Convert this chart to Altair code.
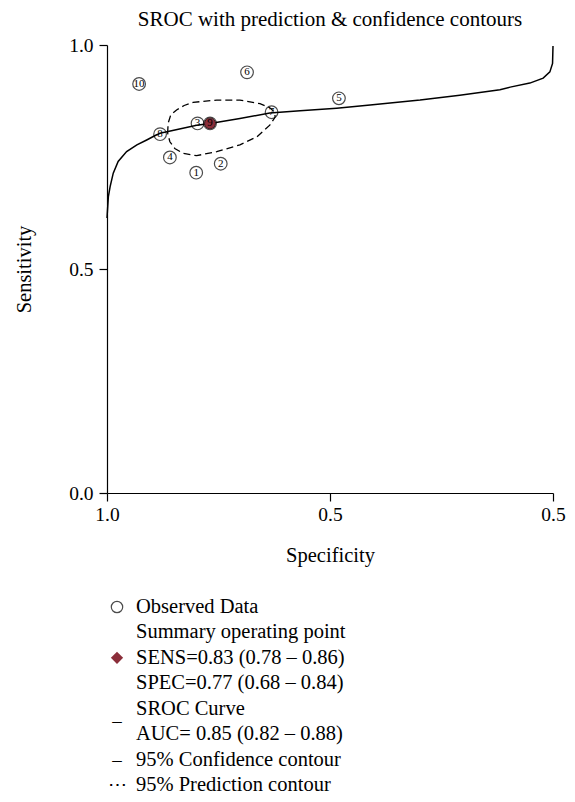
import altair as alt
import pandas as pd

FONT = "Liberation Serif"

# ---- observed studies (specificity, sensitivity) ----
study_id = [1, 2, 3, 4, 5, 6, 7, 8, 9, 10]
obs_spec = [0.800, 0.745, 0.797, 0.859, 0.480, 0.686, 0.631, 0.881, 0.769, 0.928]
obs_sens = [0.715, 0.735, 0.825, 0.749, 0.881, 0.939, 0.850, 0.801, 0.825, 0.913]

# ---- summary operating point ----
summary_spec = [0.769]
summary_sens = [0.825]

# ---- SROC curve ----
curve_spec = [1.000, 0.997, 0.993, 0.986, 0.975, 0.956, 0.933, 0.911, 0.892, 0.881,
              0.799, 0.769, 0.702, 0.635, 0.567, 0.485, 0.410, 0.298, 0.209, 0.119,
              0.096, 0.052, 0.022, 0.007, 0.001, 0.000]
curve_sens = [0.614, 0.661, 0.684, 0.714, 0.740, 0.762, 0.777, 0.788, 0.798, 0.803,
              0.821, 0.825, 0.836, 0.848, 0.853, 0.859, 0.866, 0.877, 0.888, 0.900,
              0.906, 0.915, 0.926, 0.940, 0.959, 0.998]

# ---- 95% confidence contour ----
conf_spec = [0.864, 0.863, 0.857, 0.844, 0.827, 0.807, 0.754, 0.702, 0.657, 0.635,
             0.624, 0.623, 0.635, 0.664, 0.702, 0.754, 0.799, 0.829, 0.848, 0.859, 0.864]
conf_sens = [0.803, 0.825, 0.844, 0.855, 0.865, 0.872, 0.877, 0.877, 0.869, 0.860,
             0.850, 0.839, 0.821, 0.795, 0.777, 0.762, 0.753, 0.758, 0.769, 0.784, 0.803]

# ---- legend text ----
legend_lines = ["Observed Data", "Summary operating point", "SENS=0.83 (0.78 – 0.86)",
                "SPEC=0.77 (0.68 – 0.84)", "SROC Curve", "AUC= 0.85 (0.82 – 0.88)",
                "95% Confidence contour", "95% Prediction contour"]
legend_glyph_rows = [4.5, 6, 7]
legend_glyphs = ["–", "–", "⋯"]

obs_df = pd.DataFrame({"spec": obs_spec, "sens": obs_sens, "id": [str(s) for s in study_id]})
sum_df = pd.DataFrame({"spec": summary_spec, "sens": summary_sens})
curve_df = pd.DataFrame({"spec": curve_spec, "sens": curve_sens, "i": list(range(len(curve_spec)))})
conf_df = pd.DataFrame({"spec": conf_spec, "sens": conf_sens, "i": list(range(len(conf_spec)))})

xs = alt.Scale(domain=[1, 0], nice=False, zero=False)
ys = alt.Scale(domain=[0, 1], nice=False, zero=False)

X = alt.X("spec:Q", scale=xs, axis=alt.Axis(
    values=[1, 0.5, 0], labelExpr="datum.value === 0 ? '0.5' : format(datum.value, '.1f')",
    title="Specificity", tickSize=8, labelPadding=4, labelFlush=False, titleBaseline="alphabetic",
    titleX=223, titleY=68, titleAnchor="middle"))
Y = alt.Y("sens:Q", scale=ys, axis=alt.Axis(
    values=[0, 0.5, 1], labelExpr="format(datum.value, '.1f')", labelFlush=False,
    title="Sensitivity", tickSize=8, labelPadding=6, titleBaseline="alphabetic",
    titleX=-77, titleY=224, titleAngle=-90))

curve = alt.Chart(curve_df).mark_line(color="black", strokeWidth=1.5).encode(
    x=X, y=Y, order="i:Q")
conf = alt.Chart(conf_df).mark_line(color="black", strokeWidth=1.3, strokeDash=[7, 4]).encode(
    x="spec:Q", y="sens:Q", order="i:Q")
pts = alt.Chart(obs_df).mark_point(shape="circle", filled=False, size=160,
                                   color="black", strokeWidth=1.2).encode(x="spec:Q", y="sens:Q")
summ = alt.Chart(sum_df).mark_point(shape="circle", filled=True, size=120, fill="#8b2e3a",
                                    stroke="#3a1a1e", strokeWidth=1, opacity=1).encode(x="spec:Q", y="sens:Q")
labels = alt.Chart(obs_df).mark_text(font=FONT, fontSize=11, color="black", baseline="middle").encode(
    x="spec:Q", y="sens:Q", text="id:N")

main = alt.layer(conf, curve, pts, summ, labels)

leg_df = pd.DataFrame({"row": list(range(len(legend_lines))), "txt": legend_lines})
LY = alt.Y("row:Q", scale=alt.Scale(domain=[0, 7], range=[562, 740]), axis=None)
leg_text = alt.Chart(leg_df).mark_text(font=FONT, fontSize=20.5, align="left", baseline="middle",
                                       color="black").encode(x=alt.value(29), y=LY, text="txt:N")
leg_circ = alt.Chart(pd.DataFrame({"row": [0]})).mark_point(
    shape="circle", filled=False, size=130, color="black", strokeWidth=1.2).encode(x=alt.value(10), y=LY)
leg_diam = alt.Chart(pd.DataFrame({"row": [2]})).mark_point(
    shape="diamond", filled=True, size=150, color="#8b2e3a", opacity=1).encode(x=alt.value(10), y=LY)
leg_glyph = alt.Chart(pd.DataFrame({"row": legend_glyph_rows, "g": legend_glyphs})).mark_text(
    font=FONT, fontSize=19, baseline="middle", color="black").encode(x=alt.value(10), y=LY, text="g:N")
legend = alt.layer(leg_text, leg_circ, leg_diam, leg_glyph)

chart = alt.layer(main, legend).resolve_scale(x="independent", y="independent").properties(
    width=446, height=448,
    title=alt.TitleParams("SROC with prediction & confidence contours", font=FONT, fontSize=21,
                          fontWeight="normal", color="black", anchor="middle", baseline="alphabetic",
                          offset=10, dy=22),
    autosize=alt.AutoSizeParams(type="none"),
    padding={"left": 99, "top": 37, "right": 14, "bottom": 303},
).configure_view(stroke=None).configure_axis(
    grid=False, domainColor="black", tickColor="black", labelColor="black", titleColor="black",
    labelFont=FONT, titleFont=FONT, labelFontSize=19.5, titleFontSize=20.5, titleFontWeight="normal",
    domainWidth=1.2, tickWidth=1.2)

chart.save("out.html", embed_options={"renderer": "svg", "actions": False})
